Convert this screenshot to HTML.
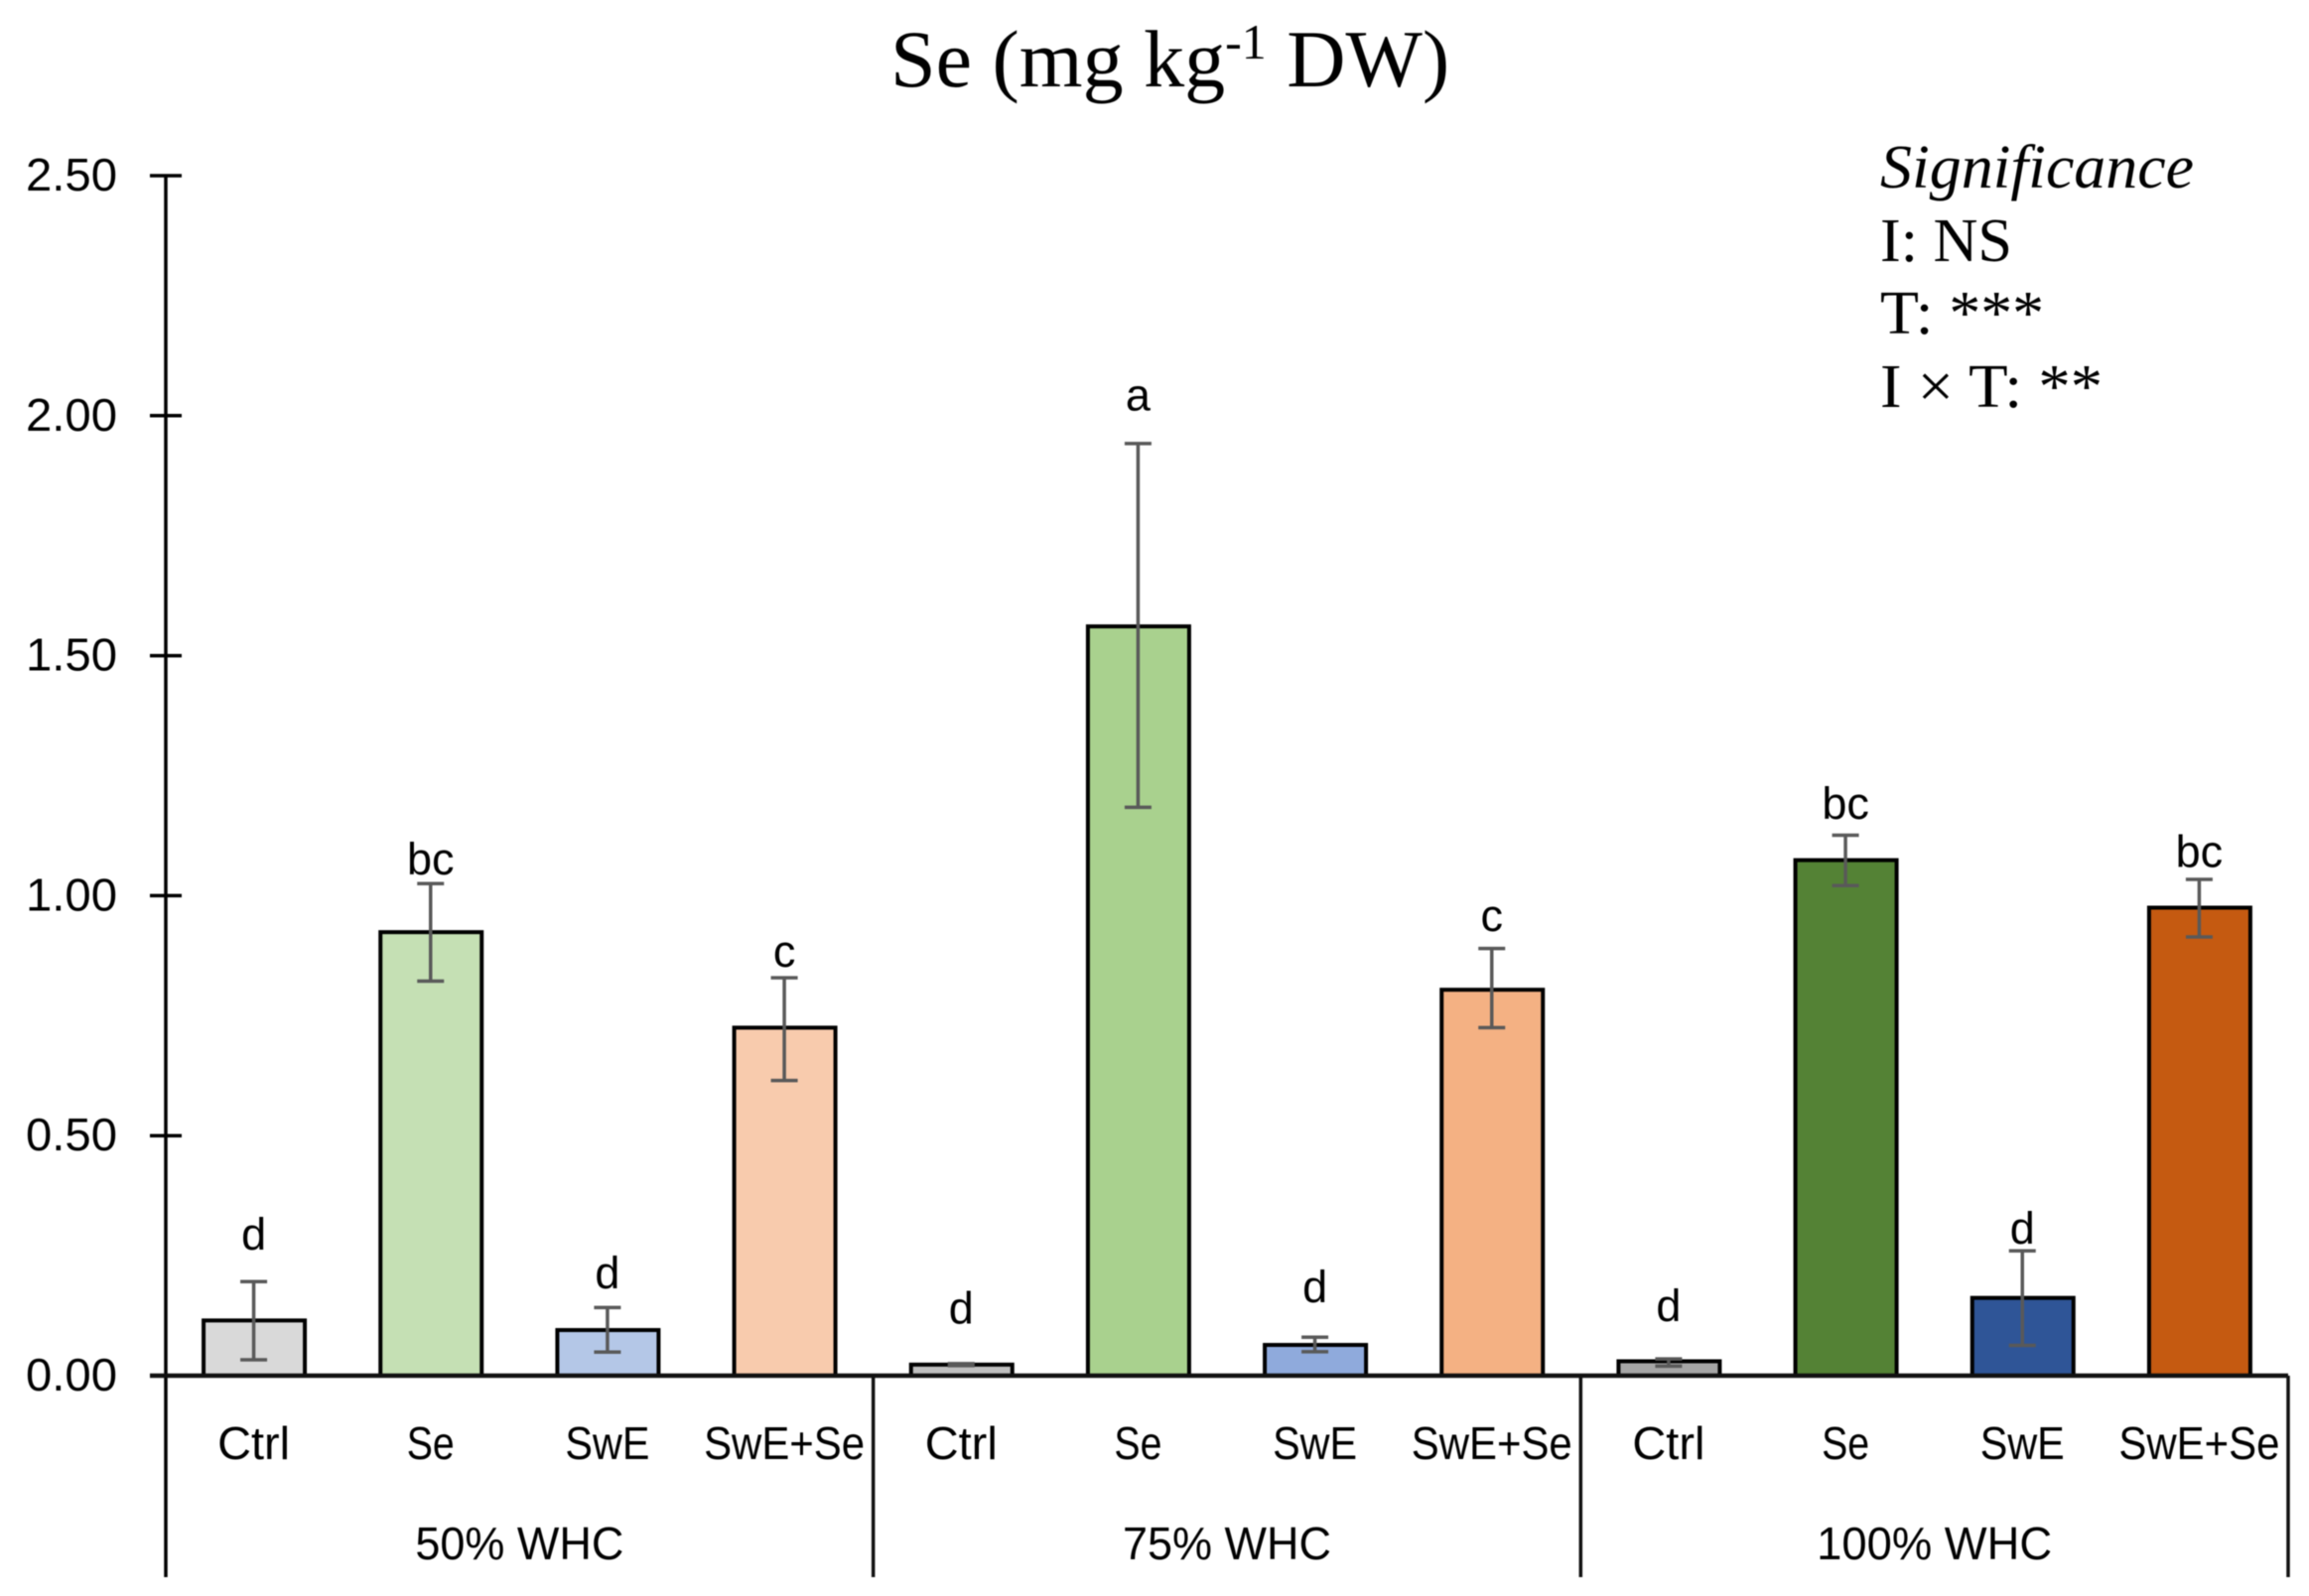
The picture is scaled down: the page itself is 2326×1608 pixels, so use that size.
<!DOCTYPE html>
<html lang="en">
<head>
<meta charset="utf-8">
<title>Se (mg kg-1 DW)</title>
<style>
  html, body { margin: 0; padding: 0; background: #ffffff; }
  body { width: 2326px; height: 1608px; overflow: hidden; }
  svg { display: block; filter: blur(0.6px); }
  .sans { font-family: "Liberation Sans", sans-serif; fill: #000000; }
  .serif { font-family: "Liberation Serif", serif; fill: #000000; }
</style>
</head>
<body>
<svg id="chart" xmlns="http://www.w3.org/2000/svg" width="2326" height="1608" viewBox="0 0 2326 1608">
  <rect x="0" y="0" width="2326" height="1608" fill="#ffffff"/>
  <text class="serif" x="897" y="87" font-size="82">Se (mg kg<tspan font-size="50" dy="-28">-1</tspan><tspan dy="28"> DW)</tspan></text>
  <g class="serif" font-size="62">
    <text class="serif" x="1894" y="189" font-style="italic" textLength="316" lengthAdjust="spacingAndGlyphs">Significance</text>
    <text class="serif" x="1894" y="263" textLength="133" lengthAdjust="spacingAndGlyphs">I: NS</text>
    <text class="serif" x="1894" y="336" textLength="165" lengthAdjust="spacingAndGlyphs">T: ***</text>
    <text class="serif" x="1894" y="410" textLength="224" lengthAdjust="spacingAndGlyphs">I × T: **</text>
  </g>
  <g id="bars"></g>
  <g id="errors"></g>
  <g id="letters"></g>
  <g id="y-axis"></g>
  <g id="x-axis"></g>
</svg>
<script>
const groups = ['50% WHC', '75% WHC', '100% WHC'];
const categories = ['Ctrl', 'Se', 'SwE', 'SwE+Se'];
const values = [0.115, 0.924, 0.095, 0.725, 0.023, 1.561, 0.064, 0.804, 0.030, 1.074, 0.162, 0.975];
const errHigh = [0.196, 1.025, 0.142, 0.829, 0.025, 1.942, 0.080, 0.890, 0.035, 1.126, 0.260, 1.034];
const errLow = [0.033, 0.822, 0.049, 0.615, 0.021, 1.184, 0.050, 0.725, 0.020, 1.021, 0.063, 0.914];
const letters = ['d', 'bc', 'd', 'c', 'd', 'a', 'd', 'c', 'd', 'bc', 'd', 'bc'];
const letterLift = [0.067, 0.019, 0.040, 0.023, 0.084, 0.069, 0.073, 0.036, 0.079, 0.034, 0.015, 0.026];
const barColors = ['#d9d9d9', '#c5e0b4', '#b4c7e7', '#f8cbad', '#bfbfbf', '#a9d18e', '#8faadc', '#f4b183', '#a6a6a6', '#548235', '#2f5597', '#c55a11'];
const yTicks = ['0.00', '0.50', '1.00', '1.50', '2.00', '2.50'];

const NS = 'http://www.w3.org/2000/svg';
const plotLeft = 167, plotRight = 2305, yZero = 1386, yTop = 177, yMax = 2.5, axisBottom = 1589;
const catWidth = (plotRight - plotLeft) / (groups.length * categories.length);
const barWidth = 102;
const y = v => yZero - (v / yMax) * (yZero - yTop);
const x = i => plotLeft + catWidth * (i + 0.5);
const catTextWidth = { 'Ctrl': 73, 'Se': 48, 'SwE': 85, 'SwE+Se': 162 };

function make(tag, attrs, parent, text) {
  const el = document.createElementNS(NS, tag);
  for (const k in attrs) el.setAttribute(k, attrs[k]);
  if (text !== undefined) el.textContent = text;
  parent.appendChild(el);
  return el;
}
const barsG = document.getElementById('bars');
const errG = document.getElementById('errors');
const letG = document.getElementById('letters');
const yG = document.getElementById('y-axis');
const xG = document.getElementById('x-axis');

values.forEach((v, i) => {
  const bar = make('rect', { x: x(i) - barWidth / 2, y: y(v), width: barWidth, height: yZero - y(v), fill: barColors[i], stroke: '#000000', 'stroke-width': 4 }, barsG);
  
  

  const stem = make('line', { x1: x(i) - 0.5, x2: x(i) - 0.5, y1: y(errHigh[i]), y2: y(errLow[i]), stroke: '#595959', 'stroke-width': 3.5 }, errG);
  
  
  [errHigh[i], errLow[i]].forEach(e => {
    const cap = make('line', { x1: x(i) - 14, x2: x(i) + 13, y1: y(e), y2: y(e), stroke: '#595959', 'stroke-width': 3.5 }, errG);
    
    
  });

  const letter = make('text', { x: x(i) - 0.5, y: y(errHigh[i] + letterLift[i]), 'text-anchor': 'middle', 'font-size': 45, class: 'sans' }, letG, letters[i]);
  
  

  const cat = categories[i % categories.length];
  const label = make('text', { x: x(i) - 0.5, y: 1470, 'text-anchor': 'middle', 'font-size': 46, textLength: catTextWidth[cat], lengthAdjust: 'spacingAndGlyphs', class: 'sans' }, xG, cat);
  
  
});

const yLine = make('line', { x1: plotLeft, x2: plotLeft, y1: yTop, y2: axisBottom, stroke: '#000000', 'stroke-width': 3.5 }, yG);



yTicks.forEach(t => {
  const v = parseFloat(t);
  const tick = make('line', { x1: plotLeft - 16, x2: plotLeft + 16, y1: y(v), y2: y(v), stroke: '#000000', 'stroke-width': 3.5 }, yG);
  
  
  const lab = make('text', { x: 118, y: y(v) + 15, 'text-anchor': 'end', 'font-size': 46, textLength: 92, lengthAdjust: 'spacingAndGlyphs', class: 'sans' }, yG, t);
  
  
});

const xLine = make('line', { x1: plotLeft - 16, x2: plotRight, y1: yZero, y2: yZero, stroke: '#111111', 'stroke-width': 4.5 }, xG);



groups.forEach((g, i) => {
  const gw = catWidth * categories.length;
  const right = plotLeft + gw * (i + 1);
  const div = make('line', { x1: right, x2: right, y1: yZero, y2: axisBottom, stroke: '#111111', 'stroke-width': 3.5 }, xG);
  
  
  const gl = make('text', { x: plotLeft + gw * (i + 0.5), y: 1571, 'text-anchor': 'middle', 'font-size': 46, textLength: g.length > 7 ? 237 : 210, lengthAdjust: 'spacingAndGlyphs', class: 'sans' }, xG, g);
  
  
});
</script>
</body>
</html>
